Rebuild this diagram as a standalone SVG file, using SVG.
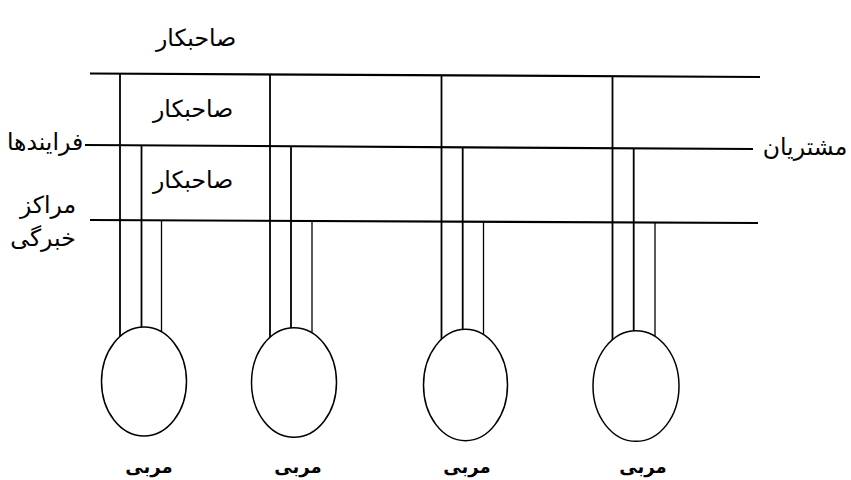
<svg xmlns="http://www.w3.org/2000/svg" width="851" height="480" viewBox="0 0 851 480">
<style>
.lbl{font-family:"DejaVu Sans",sans-serif;font-size:23.5px;fill:#000;text-anchor:middle}
.cap{font-family:"DejaVu Sans",sans-serif;font-size:18px;font-weight:bold;fill:#000;text-anchor:middle}
.h{stroke:#000;stroke-width:2.2;fill:none}
.v{stroke:#000;stroke-width:1.8;fill:none}
.v2{stroke:#000;stroke-width:1.3;fill:none}
.node{fill:#fff;stroke:#000;stroke-width:1.5}
</style>
<rect width="851" height="480" fill="#fff"/>
<g id="connectors">
<line class="h" x1="90" y1="73.5" x2="760" y2="77"/>
<line class="h" x1="85" y1="145" x2="753" y2="149"/>
<line class="h" x1="90" y1="220" x2="758" y2="223"/>
<line class="v" x1="120" y1="74" x2="120" y2="337"/>
<line class="v" x1="141.5" y1="146" x2="141.5" y2="327"/>
<line class="v2" x1="161.5" y1="221" x2="161.5" y2="332"/>
<line class="v" x1="270" y1="74.5" x2="270" y2="337"/>
<line class="v" x1="291" y1="147" x2="291" y2="328"/>
<line class="v2" x1="312" y1="222" x2="312" y2="332"/>
<line class="v" x1="441.5" y1="75.5" x2="441.5" y2="339"/>
<line class="v" x1="462.7" y1="148" x2="462.7" y2="330"/>
<line class="v2" x1="483.5" y1="222" x2="483.5" y2="334"/>
<line class="v" x1="612.5" y1="76" x2="612.5" y2="342"/>
<line class="v" x1="633.7" y1="148.5" x2="633.7" y2="331"/>
<line class="v2" x1="655" y1="223" x2="655" y2="336"/>
</g>
<g id="coach1"><ellipse class="node" cx="144" cy="381.5" rx="42.5" ry="54.5"/><text class="cap" x="149" y="473">مربی</text></g>
<g id="coach2"><ellipse class="node" cx="294" cy="382.5" rx="42.5" ry="54.7"/><text class="cap" x="298" y="473">مربی</text></g>
<g id="coach3"><ellipse class="node" cx="465.5" cy="385" rx="42" ry="55.7"/><text class="cap" x="467" y="473">مربی</text></g>
<g id="coach4"><ellipse class="node" cx="636" cy="386" rx="43" ry="55.3"/><text class="cap" x="643" y="473">مربی</text></g>
<g id="owner-top"><text class="lbl" x="196" y="46">صاحبکار</text></g>
<g id="owner-1"><text class="lbl" x="193" y="117">صاحبکار</text></g>
<g id="owner-2"><text class="lbl" x="193" y="188">صاحبکار</text></g>
<g id="processes"><text class="lbl" x="45" y="150">فرایندها</text></g>
<g id="customers"><text class="lbl" x="805" y="155">مشتریان</text></g>
<g id="centers"><text class="lbl" x="48" y="213">مراکز</text><text class="lbl" x="43" y="246">خبرگی</text></g>
</svg>
